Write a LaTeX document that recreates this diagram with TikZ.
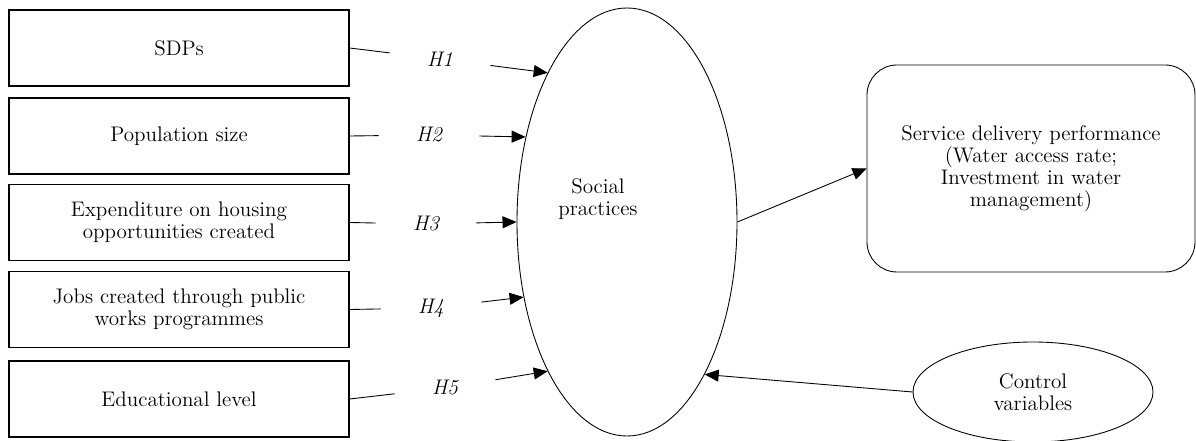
\documentclass[tikz,border=0pt]{standalone}
\usepackage{amsmath,amssymb}
\usepackage{tikz}
\usetikzlibrary{arrows.meta,positioning,shapes.geometric}
\tikzset{
  varbox/.style={draw,line width=.6pt,minimum width=6.8cm,minimum height=1.52cm,align=center,inner sep=2pt},
  hyp/.style={font=\fontsize{12}{12.5}\itshape,inner xsep=.74cm,inner ysep=4pt},
  tip/.style={-{Triangle[length=2.8mm,width=2.4mm]}}
}

\begin{document}
\begin{tikzpicture}[x=.2mm,y=-.2mm,line width=.5pt,font=\fontsize{12}{12.5}\selectfont]
\useasboundingbox (0,0) rectangle (1196,441);
% explanatory variables
\foreach \i/\y/\txt in {1/48/SDPs,2/136/Population size,3/222.5/Expenditure on housing\\opportunities created,4/309.5/Jobs created through public\\works programmes,5/399/Educational level}{\node[varbox] (b\i) at (179,\y) {\txt};}
% mediator
\node[ellipse,draw,minimum width=4.4cm,minimum height=8.56cm,inner sep=0pt] (sp) at (627,222) {};
\node[align=center] (sptxt) at (598,199) {Social\\practices};
% outcome and controls
\node[draw,rounded corners=.6cm,minimum width=6.56cm,minimum height=4.14cm,align=center] (sdp) at (1031,168.5) {Service delivery performance\\(Water access rate;\\Investment in water\\management)};
\node[ellipse,draw,minimum width=4.8cm,minimum height=2cm,align=center,inner sep=0pt] (cv) at (1033,392) {Control\\variables};
% hypotheses
\foreach \i/\x/\y/\a in {1/440/59/118,2/429/135/140,3/426/224/180,4/431/308/216,5/445/388/242}{
  \node[hyp] (h\i) at (\x,\y) {H\i};
  \draw (b\i.east) -- (h\i);
  \draw[tip] (h\i) -- (sp.\a);
}
\draw[tip] (sp.0) -- (sdp.west);
\draw[tip] (cv.west) -- (sp.297);
\end{tikzpicture}
\end{document}
